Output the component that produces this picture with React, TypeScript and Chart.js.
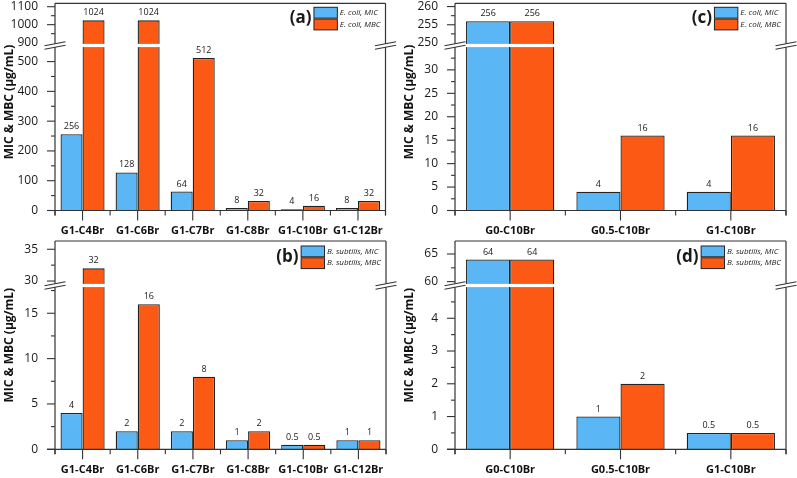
import React, { useEffect, useRef } from "react";
import { Chart, registerables } from "chart.js";

Chart.register(...registerables);

// ---------- data ----------
const CATEGORIES_G1 = ["G1-C4Br", "G1-C6Br", "G1-C7Br", "G1-C8Br", "G1-C10Br", "G1-C12Br"];
const CATEGORIES_GEN = ["G0-C10Br", "G0.5-C10Br", "G1-C10Br"];

const ECOLI_G1_MIC = [256, 128, 64, 8, 4, 8];
const ECOLI_G1_MBC = [1024, 1024, 512, 32, 16, 32];
const BSUB_G1_MIC = [4, 2, 2, 1, 0.5, 1];
const BSUB_G1_MBC = [32, 16, 8, 2, 0.5, 1];
const ECOLI_GEN_MIC = [256, 4, 4];
const ECOLI_GEN_MBC = [256, 16, 16];
const BSUB_GEN_MIC = [64, 1, 0.5];
const BSUB_GEN_MBC = [64, 2, 0.5];

const A_LOW_TICKS = [0, 100, 200, 300, 400, 500];
const A_HIGH_TICKS = [900, 1000, 1100];
const B_LOW_TICKS = [0, 5, 10, 15];
const B_HIGH_TICKS = [30, 35];
const C_LOW_TICKS = [0, 5, 10, 15, 20, 25, 30];
const C_HIGH_TICKS = [250, 255, 260];
const D_LOW_TICKS = [0, 1, 2, 3, 4];
const D_HIGH_TICKS = [60, 65];

// axis ranges [lowMax, highMin, highMax]
const A_RANGE = [554, 884, 1119];
const B_RANGE = [18.06, 29.3, 36.3];
const C_RANGE = [35.2, 249.3, 260.9];
const D_RANGE = [5.0, 59.3, 67.35];

const Y_TITLE = "MIC & MBC (μg/mL)";
const BLUE = "#5ab6f4";
const ORANGE = "#fc5914";
const EDGE = "#222222";
const AXIS = "#333333";
const FONT = "'Open Sans', sans-serif";

type PanelCfg = {
  tag: string;
  labels: string[];
  mic: number[];
  mbc: number[];
  micName: string;
  mbcName: string;
  lowTicks: number[];
  highTicks: number[];
  range: number[];
  left: number;
  top: number;
  width: number;
  height: number;
  padTop: number;
  padRight: number;
  xHeight: number;
  wLow: number;
  wHigh: number;
  titleSize: number;
  titleDy: number;
  legendDy: number;
};

const PANELS: PanelCfg[] = [
  {
    tag: "(a)", labels: CATEGORIES_G1, mic: ECOLI_G1_MIC, mbc: ECOLI_G1_MBC,
    micName: "E. coli, MIC", mbcName: "E. coli, MBC",
    lowTicks: A_LOW_TICKS, highTicks: A_HIGH_TICKS, range: A_RANGE,
    left: 0, top: 0, width: 400, height: 239, padTop: 3.3, padRight: 14.5, xHeight: 28.5,
    wLow: 165, wHigh: 42.2, titleSize: 12, titleDy: -5, legendDy: 4,
  },
  {
    tag: "(c)", labels: CATEGORIES_GEN, mic: ECOLI_GEN_MIC, mbc: ECOLI_GEN_MBC,
    micName: "E. coli, MIC", mbcName: "E. coli, MBC",
    lowTicks: C_LOW_TICKS, highTicks: C_HIGH_TICKS, range: C_RANGE,
    left: 400, top: 0, width: 397, height: 239, padTop: 3.3, padRight: 11, xHeight: 28.5,
    wLow: 165, wHigh: 42.2, titleSize: 12, titleDy: -5, legendDy: 4,
  },
  {
    tag: "(b)", labels: CATEGORIES_G1, mic: BSUB_G1_MIC, mbc: BSUB_G1_MBC,
    micName: "B. subtilis, MIC", mbcName: "B. subtilis, MBC",
    lowTicks: B_LOW_TICKS, highTicks: B_HIGH_TICKS, range: B_RANGE,
    left: 0, top: 239, width: 400, height: 239, padTop: 2, padRight: 14, xHeight: 28.7,
    wLow: 163.8, wHigh: 44.5, titleSize: 12, titleDy: 0, legendDy: 5,
  },
  {
    tag: "(d)", labels: CATEGORIES_GEN, mic: BSUB_GEN_MIC, mbc: BSUB_GEN_MBC,
    micName: "B. subtilis, MIC", mbcName: "B. subtilis, MBC",
    lowTicks: D_LOW_TICKS, highTicks: D_HIGH_TICKS, range: D_RANGE,
    left: 400, top: 239, width: 397, height: 239, padTop: 2, padRight: 11, xHeight: 28.7,
    wLow: 163.8, wHigh: 44.5, titleSize: 12, titleDy: 0, legendDy: 5,
  },
];

function line(ctx: CanvasRenderingContext2D, x1: number, y1: number, x2: number, y2: number) {
  ctx.beginPath();
  ctx.moveTo(x1, y1);
  ctx.lineTo(x2, y2);
  ctx.stroke();
}

function makePlugin(p: PanelCfg) {
  return {
    id: "brokenAxis",
    afterDatasetsDraw(chart: any) {
      const ctx: CanvasRenderingContext2D = chart.ctx;
      const ca = chart.chartArea;
      const yl = chart.scales.yLow;
      const yh = chart.scales.yHigh;
      const xs = chart.scales.x;
      const yb = yh.bottom;
      ctx.save();
      // white break stripe through the bars
      ctx.fillStyle = "#ffffff";
      ctx.fillRect(ca.left + 1, yb - 1.6, ca.right - ca.left - 1, 3.2);

      // frame / axes
      ctx.strokeStyle = AXIS;
      ctx.lineWidth = 1.2;
      line(ctx, ca.left, ca.bottom + 5, ca.left, yb + 1.8);
      line(ctx, ca.left, yb - 1.8, ca.left, ca.top);
      line(ctx, ca.right, ca.bottom + 5, ca.right, yb + 1.8);
      line(ctx, ca.right, yb - 1.8, ca.right, ca.top);
      line(ctx, ca.left, ca.top, ca.right, ca.top);
      line(ctx, ca.left - 8, ca.bottom, ca.right, ca.bottom);

      // break marks
      ctx.lineWidth = 1.1;
      for (const ax of [ca.left, ca.right]) {
        for (const d of [-1.7, 1.7]) {
          line(ctx, ax - 10.5, yb + d + 2, ax + 10.5, yb + d - 2);
        }
      }

      // y ticks
      ctx.lineWidth = 1.1;
      const yTicks = (scale: any, majors: number[]) => {
        const minor = (majors[1] - majors[0]) / 2;
        const k0 = Math.ceil(scale.min / minor);
        const k1 = Math.floor(scale.max / minor);
        for (let k = k0; k <= k1; k++) {
          const v = k * minor;
          const y = scale.getPixelForValue(v);
          if (Math.abs(y - yb) < 3.5) continue;
          const isMajor = majors.some((m) => Math.abs(m - v) < 1e-9);
          line(ctx, ca.left - (isMajor ? 8 : 4), y, ca.left, y);
        }
      };
      yTicks(yl, p.lowTicks);
      yTicks(yh, p.highTicks);

      // x ticks
      const n = p.labels.length;
      const cw = (ca.right - ca.left) / n;
      for (let i = 0; i <= n; i++) {
        const x = ca.left + i * cw;
        line(ctx, x, ca.bottom, x, ca.bottom + 5);
      }
      for (let i = 0; i < n; i++) {
        const x = xs.getPixelForValue(i);
        line(ctx, x, ca.bottom, x, ca.bottom + 10);
      }

      // y title
      ctx.save();
      ctx.translate(10, (ca.top + ca.bottom) / 2 + p.titleDy);
      ctx.rotate(-Math.PI / 2);
      ctx.fillStyle = "#111";
      ctx.font = `bold ${p.titleSize}px ${FONT}`;
      ctx.textAlign = "center";
      ctx.textBaseline = "middle";
      ctx.fillText(Y_TITLE, 0, 0);
      ctx.restore();

      // value labels
      ctx.font = `9px ${FONT}`;
      ctx.fillStyle = "#1a1a1a";
      ctx.textAlign = "center";
      ctx.textBaseline = "middle";
      const lowMax = p.range[0];
      const series = [p.mic, p.mbc];
      series.forEach((vals, si) => {
        vals.forEach((v, i) => {
          const dsIndex = v > lowMax ? si + 2 : si;
          const el = chart.getDatasetMeta(dsIndex).data[i];
          if (!el) return;
          ctx.fillText(String(v), el.x, el.y - 7.5);
        });
      });

      // legend
      ctx.font = `italic 8px ${FONT}`;
      const tw = Math.max(ctx.measureText(p.micName).width, ctx.measureText(p.mbcName).width);
      const textX = ca.right - 5 - tw;
      const swR = textX - 2.5;
      const swL = swR - 23.4;
      const t0 = ca.top + p.legendDy;
      const sh = 10.8;
      ctx.lineWidth = 1;
      ctx.strokeStyle = EDGE;
      ctx.fillStyle = BLUE;
      ctx.fillRect(swL, t0, swR - swL, sh);
      ctx.strokeRect(swL, t0, swR - swL, sh);
      ctx.fillStyle = ORANGE;
      ctx.fillRect(swL, t0 + sh + 1, swR - swL, sh);
      ctx.strokeRect(swL, t0 + sh + 1, swR - swL, sh);
      ctx.fillStyle = "#1a1a1a";
      ctx.textAlign = "left";
      ctx.fillText(p.micName, textX, t0 + sh / 2);
      ctx.fillText(p.mbcName, textX, t0 + sh * 1.5 + 1);
      ctx.font = `bold 17px ${FONT}`;
      ctx.textAlign = "right";
      ctx.fillText(p.tag, swL - 2.5, t0 + sh + 0.5);
      ctx.restore();
    },
  };
}

function makeConfig(p: PanelCfg): any {
  const [lowMax, highMin, highMax] = p.range;
  const lowMic = p.mic.map((v) => Math.min(v, lowMax));
  const lowMbc = p.mbc.map((v) => Math.min(v, lowMax));
  const highMic = p.mic.map((v) => (v > lowMax ? v : null));
  const highMbc = p.mbc.map((v) => (v > lowMax ? v : null));
  const barCommon = {
    borderColor: EDGE,
    borderWidth: 1.3,
    categoryPercentage: 0.8,
    barPercentage: 1.0,
  };
  const yCommon = (ticks: number[]) => ({
    type: "linear",
    position: "left",
    stack: "v",
    grid: { display: false, drawTicks: false, tickLength: 0 },
    border: { display: false },
    ticks: {
      font: { family: FONT, size: 12 },
      color: "#1a1a1a",
      padding: 17,
      autoSkip: false,
      callback: (v: any) => String(v),
    },
    afterBuildTicks: (s: any) => {
      s.ticks = ticks.map((v) => ({ value: v }));
    },
    afterFit: (s: any) => {
      s.width = 55;
      s.paddingTop = 0;
      s.paddingBottom = 0;
    },
  });
  return {
    type: "bar",
    data: {
      labels: p.labels,
      datasets: [
        { ...barCommon, label: p.micName, data: lowMic, yAxisID: "yLow", stack: "mic", backgroundColor: BLUE },
        { ...barCommon, label: p.mbcName, data: lowMbc, yAxisID: "yLow", stack: "mbc", backgroundColor: ORANGE },
        { ...barCommon, label: p.micName + " ", data: highMic, yAxisID: "yHigh", stack: "mic", backgroundColor: BLUE },
        { ...barCommon, label: p.mbcName + " ", data: highMbc, yAxisID: "yHigh", stack: "mbc", backgroundColor: ORANGE },
      ],
    },
    options: {
      responsive: false,
      animation: false,
      devicePixelRatio: 1,
      layout: { padding: { top: p.padTop, right: p.padRight, left: 0, bottom: 0 } },
      plugins: { legend: { display: false }, tooltip: { enabled: false } },
      scales: {
        x: {
          type: "category",
          grid: { display: false, drawTicks: false, tickLength: 0 },
          border: { display: false },
          ticks: {
            font: { family: FONT, size: 11, weight: "bold" },
            color: "#111",
            padding: 14,
            maxRotation: 0,
            autoSkip: false,
          },
          afterFit: (s: any) => {
            s.height = p.xHeight;
            s.paddingLeft = 0;
            s.paddingRight = 0;
          },
        },
        yLow: { ...yCommon(p.lowTicks), min: 0, max: lowMax, stackWeight: p.wLow },
        yHigh: { ...yCommon(p.highTicks), min: highMin, max: highMax, stackWeight: p.wHigh },
      },
    },
    plugins: [makePlugin(p)],
  };
}

function Panel({ p }: { p: PanelCfg }) {
  const ref = useRef<HTMLCanvasElement>(null);
  useEffect(() => {
    if (!ref.current) return;
    const chart = new Chart(ref.current, makeConfig(p));
    return () => chart.destroy();
  }, [p]);
  return (
    <canvas
      ref={ref}
      width={p.width}
      height={p.height}
      style={{ position: "absolute", left: p.left, top: p.top, width: p.width, height: p.height }}
    />
  );
}

export default function App() {
  return (
    <div style={{ position: "absolute", left: 0, top: 0, width: 797, height: 478, background: "#fff" }}>
      {PANELS.map((p) => (
        <Panel key={p.tag} p={p} />
      ))}
    </div>
  );
}
